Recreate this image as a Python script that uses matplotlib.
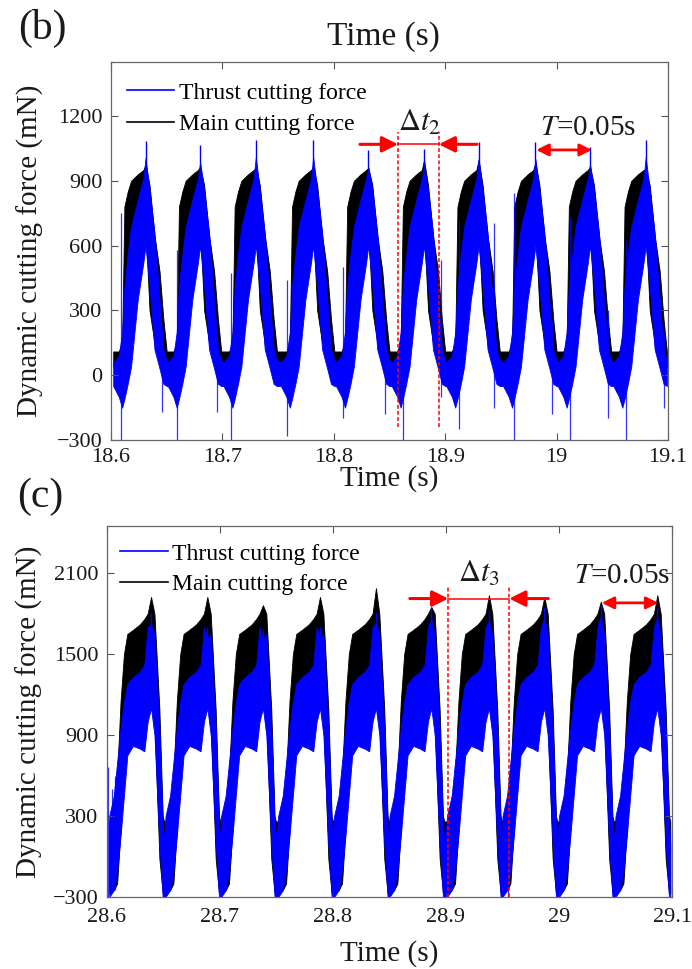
import numpy as np
import matplotlib
matplotlib.use('Agg')
import matplotlib.pyplot as plt
from matplotlib.lines import Line2D

plt.rcParams['font.family'] = ['Liberation Serif', 'DejaVu Serif']
plt.rcParams['mathtext.fontset'] = 'stix'

# ---------------- panel (b) data ----------------
peak_t_b = [18.631, 18.680, 18.730, 18.7815, 18.831, 18.881, 18.930, 18.981, 19.030, 19.080]
blue_peak_b = [1086, 1066, 1089, 1089, 1043, 1047, 1080, 1080, 1057, 1089]
black_peak_b = [974, 965, 960, 965, 960, 997, 997, 983, 965, 951]
shape_dt_b = [-0.029, -0.024, -0.021, -0.019, -0.016, -0.013, -0.007, -0.002, 0.0,
              0.0036, 0.008, 0.0126, 0.016, 0.019]
blue_lo_b = [-50, -100, -150, -110, -40, 40, 350, 520, 600, 410, 120, 30, -40, -50]
blue_hi_b = [60, 90, 200, 411, 560, 688, 812, 910, 980, 858, 660, 350, 120, 70]
black_lo_b = [40, 30, 30, 100, 350, 550, 620, 680, 680, 300, 150, 90, 50, 40]
black_hi_b = [110, 110, 150, 780, 850, 900, 930, 950, 960, 880, 650, 480, 260, 110]
blue_spk_t_b = [18.609, 18.6455, 18.659, 18.695, 18.708, 18.7576, 18.808, 18.846,
                18.862, 18.8966, 18.912, 18.944, 18.962, 18.996, 19.012, 19.046, 19.0625, 19.096]
blue_spk_lo_b = [-300, -170, -300, -170, -300, -280, -200, -180, -300, -100, -250, -150,
                 -300, -180, -300, -200, -300, -150]
blue_spk_hi_b = [750, 200, 580, 200, 475, 443, 500, 200, 300, 535, 720, 706, 844, 250,
                 734, 300, 628, 200]

# ---------------- panel (c) data ----------------
peak_t_c = [28.639, 28.6888, 28.738, 28.7885, 28.838, 28.887, 28.938, 28.987, 29.037, 29.087]
blue_peak_c = [1804, 1702, 1690, 1702, 1816, 1840, 1830, 1850, 1863, 1850]
black_peak_c = [1924, 1924, 1863, 1924, 1989, 1850, 1937, 1924, 1889, 1937]
shape_dt_c = [-0.037, -0.033, -0.030, -0.027, -0.024, -0.021, -0.016, -0.010, -0.006,
              -0.003, 0.0, 0.003, 0.0074, 0.0103, 0.0115]
blue_lo_c = [-300, -250, -100, 150, 450, 750, 820, 800, 780, 1000, 1100, 900, 100, -300, -300]
blue_hi_c = [300, 450, 700, 950, 1150, 1280, 1330, 1370, 1420, 1700, 1750, 1650, 950, 250, 100]
black_lo_c = [-270, -250, -200, 200, 900, 1200, 1280, 1320, 1380, 1450, 1500, 1000, -20, -270, -270]
black_hi_c = [260, 400, 600, 1150, 1500, 1650, 1680, 1720, 1760, 1800, 1850, 1800, 1085, 300, 260]
blue_spk_t_c = [28.601, 28.604, 28.607, 28.650, 28.700, 28.750, 28.800, 28.850,
                28.900, 28.955, 29.000, 29.050]
blue_spk_lo_c = [-300, -200, -250, -300, -300, -300, -300, -300, -300, -300, -300, -300]
blue_spk_hi_c = [664, 500, 600, 200, 200, 200, 200, 200, 200, 200, 200, 200]


def build(peaks, dt, lo, hi, peak_vals):
    t_all, lo_all, hi_all = [], [], []
    ip = dt.index(0.0)
    for tp, pv in zip(peaks, peak_vals):
        for k, (d, l, h) in enumerate(zip(dt, lo, hi)):
            t_all.append(tp + d)
            lo_all.append(l)
            hi_all.append(pv if k == ip else h)
    return np.array(t_all), np.array(lo_all), np.array(hi_all)


BLUE = '#0000FF'
RED = '#FF0000'
TXT = '#1a1a1a'

fig = plt.figure(figsize=(6.92, 9.69), dpi=100)
axb = fig.add_axes([0.1604, 0.5459, 0.8049, 0.3901])
axc = fig.add_axes([0.1546, 0.0743, 0.8165, 0.3829])


def draw(ax, peaks, dt, blo, bhi, bpk, klo, khi, kpk, st, slo, shi):
    t, lo, hi = build(peaks, dt, klo, khi, kpk)
    ax.fill_between(t, lo, hi, color='black', lw=0.6, edgecolor='black')
    t, lo, hi = build(peaks, dt, blo, bhi, [v - 80 for v in bpk])
    ax.fill_between(t, lo, hi, color=BLUE, lw=0.6, edgecolor=BLUE)
    ax.vlines(peaks, [v - 300 for v in bpk], bpk, color=BLUE, lw=1.0)
    ax.vlines(st, slo, shi, color=BLUE, lw=0.9, alpha=0.8)


def style(ax, xlim, ylim, xt, xtl, yt, xpad, xtpad, ypad, leg_anchor, leg_space):
    ax.set_xlim(*xlim)
    ax.set_ylim(*ylim)
    ax.set_xticks(xt)
    ax.set_xticklabels(xtl)
    ax.set_yticks(yt)
    ax.tick_params(direction='in', top=True, right=True, length=5, width=0.8,
                   labelsize=16, colors='#555555', labelcolor=TXT, pad=6)
    ax.tick_params(axis='x', pad=xtpad)
    for s in ax.spines.values():
        s.set_color('#666666')
        s.set_linewidth(0.9)
    ax.set_xlabel('Time (s)', fontsize=21, color=TXT, labelpad=xpad)
    ax.set_ylabel('Dynamic cutting force (mN)', fontsize=21, color=TXT, labelpad=ypad)
    handles = [Line2D([], [], color=BLUE, lw=1.2), Line2D([], [], color='black', lw=1.2)]
    ax.legend(handles, ['Thrust cutting force', 'Main cutting force'], loc='upper left',
              frameon=False, fontsize=17, handlelength=2.0, handletextpad=0.2,
              labelspacing=leg_space, borderaxespad=0.0, bbox_to_anchor=leg_anchor)


draw(axb, peak_t_b, shape_dt_b, blue_lo_b, blue_hi_b, blue_peak_b,
     black_lo_b, black_hi_b, black_peak_b, blue_spk_t_b, blue_spk_lo_b, blue_spk_hi_b)
draw(axc, peak_t_c, shape_dt_c, blue_lo_c, blue_hi_c, blue_peak_c,
     black_lo_c, black_hi_c, black_peak_c, blue_spk_t_c, blue_spk_lo_c, blue_spk_hi_c)

style(axb, (18.6, 19.1), (-300, 1450), [18.6, 18.7, 18.8, 18.9, 19.0, 19.1],
      ['18.6', '18.7', '18.8', '18.9', '19', '19.1'], [-300, 0, 300, 600, 900, 1200],
      -1.5, 6, 9, (0.011, 0.972), 0.44)
style(axc, (28.6, 29.1), (-300, 2450), [28.6, 28.7, 28.8, 28.9, 29.0, 29.1],
      ['28.6', '28.7', '28.8', '28.9', '29', '29.1'], [-300, 300, 900, 1500, 2100],
      9, 8, 7, (0.007, 0.979), 0.36)

# ---- annotations panel (b)
axb.vlines([18.8577, 18.8942], -240, 1127, colors=RED, linestyles=(0, (2.5, 1.5)), lw=1.1)
axb.plot([18.8577, 18.8942], [1069, 1069], color=RED, lw=1.1)
axb.annotate('', xy=(18.8577, 1069), xytext=(18.8235, 1069),
             arrowprops=dict(arrowstyle='-|>', color=RED, lw=2.2, mutation_scale=24, shrinkA=0, shrinkB=0))
axb.annotate('', xy=(18.8942, 1069), xytext=(18.9285, 1069),
             arrowprops=dict(arrowstyle='-|>', color=RED, lw=2.2, mutation_scale=24, shrinkA=0, shrinkB=0))
axb.text(18.877, 1100, r'$\Delta t_2$', fontsize=22, ha='center', va='bottom', color=TXT)
axb.annotate('', xy=(19.0317, 1043), xytext=(18.9818, 1043),
             arrowprops=dict(arrowstyle='<|-|>', color=RED, lw=2.0, mutation_scale=18, shrinkA=0, shrinkB=0))
axb.text(19.028, 1085, r'$T$=0.05s', fontsize=21, ha='center', va='bottom', color=TXT)

# ---- annotations panel (c)
axc.vlines([28.902, 28.956], -300, 1998, colors=RED, linestyles=(0, (2.5, 1.5)), lw=1.1)
axc.plot([28.902, 28.956], [1912, 1912], color=RED, lw=1.1)
axc.annotate('', xy=(28.902, 1912), xytext=(28.868, 1912),
             arrowprops=dict(arrowstyle='-|>', color=RED, lw=2.2, mutation_scale=24, shrinkA=0, shrinkB=0))
axc.annotate('', xy=(28.956, 1912), xytext=(28.9905, 1912),
             arrowprops=dict(arrowstyle='-|>', color=RED, lw=2.2, mutation_scale=24, shrinkA=0, shrinkB=0))
axc.text(28.929, 1985, r'$\Delta t_3$', fontsize=22, ha='center', va='bottom', color=TXT)
axc.annotate('', xy=(29.0879, 1880), xytext=(29.0378, 1880),
             arrowprops=dict(arrowstyle='<|-|>', color=RED, lw=2.0, mutation_scale=18, shrinkA=0, shrinkB=0))
axc.text(29.056, 1985, r'$T$=0.05s', fontsize=21, ha='center', va='bottom', color=TXT)

# ---- figure texts
fig.text(383 / 692, 1 - 37 / 969, 'Time (s)', fontsize=24, ha='center', va='center', color=TXT)
fig.text(42 / 692, 1 - 28 / 969, '(b)', fontsize=30, ha='center', va='center', color=TXT)
fig.text(40 / 692, 1 - 497 / 969, '(c)', fontsize=30, ha='center', va='center', color=TXT)

fig.savefig('out.png', dpi=100)
